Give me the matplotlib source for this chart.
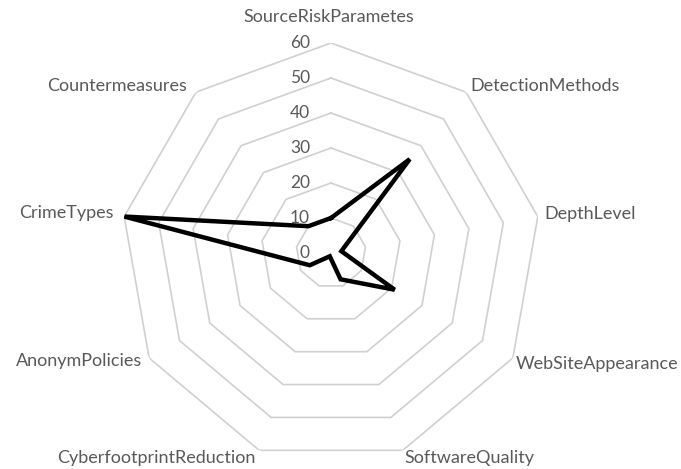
import numpy as np
import matplotlib.pyplot as plt

categories = ["SourceRiskParametes", "DetectionMethods", "DepthLevel",
              "WebSiteAppearance", "SoftwareQuality", "CyberfootprintReduction",
              "AnonymPolicies", "CrimeTypes", "Countermeasures"]
values = [10, 35, 3, 21, 8, 1, 7, 60, 10]
rticks = [0, 10, 20, 30, 40, 50, 60]

# label placement: (x offset px, y offset px, ha)
label_pos = [(-2, 26, "center"), (4, 6, "left"), (7, 3, "left"),
             (3, -6, "left"), (2, -8, "left"), (-4, -8, "right"),
             (-7, -3, "right"), (-11, 4, "right"), (-9, 6, "right")]

n = len(categories)
angles = np.linspace(0, 2 * np.pi, n, endpoint=False)
closed = np.append(angles, angles[0])

fig = plt.figure(figsize=(6.81, 4.69), dpi=100)
ax = fig.add_axes([121 / 681, 6 / 469, 420 / 681, 420 / 469], projection="polar")
ax.set_theta_offset(np.pi / 2)
ax.set_theta_direction(-1)
ax.set_ylim(0, 60)
ax.grid(False)
ax.spines["polar"].set_visible(False)
ax.set_xticks([])
ax.set_yticks([])
ax.patch.set_alpha(0)

grey = "#595959"
for r in rticks[1:]:
    ax.plot(closed, [r] * (n + 1), color="#d0d0d0", lw=1.2, zorder=1)
for r in rticks:
    ax.annotate(str(r), (0, r), xytext=(-21, 0), textcoords="offset pixels",
                ha="right", va="center", fontsize=12.5, color=grey, family="Lato")

ax.plot(closed, values + values[:1], color="black", lw=3.2,
        solid_joinstyle="miter", zorder=3)

for a, name, (dx, dy, ha) in zip(angles, categories, label_pos):
    ax.annotate(name, (a, 60), xytext=(dx, dy), textcoords="offset pixels",
                ha=ha, va="center", fontsize=13, color=grey, family="Lato",
                annotation_clip=False)

fig.savefig("out.png", dpi=100)
